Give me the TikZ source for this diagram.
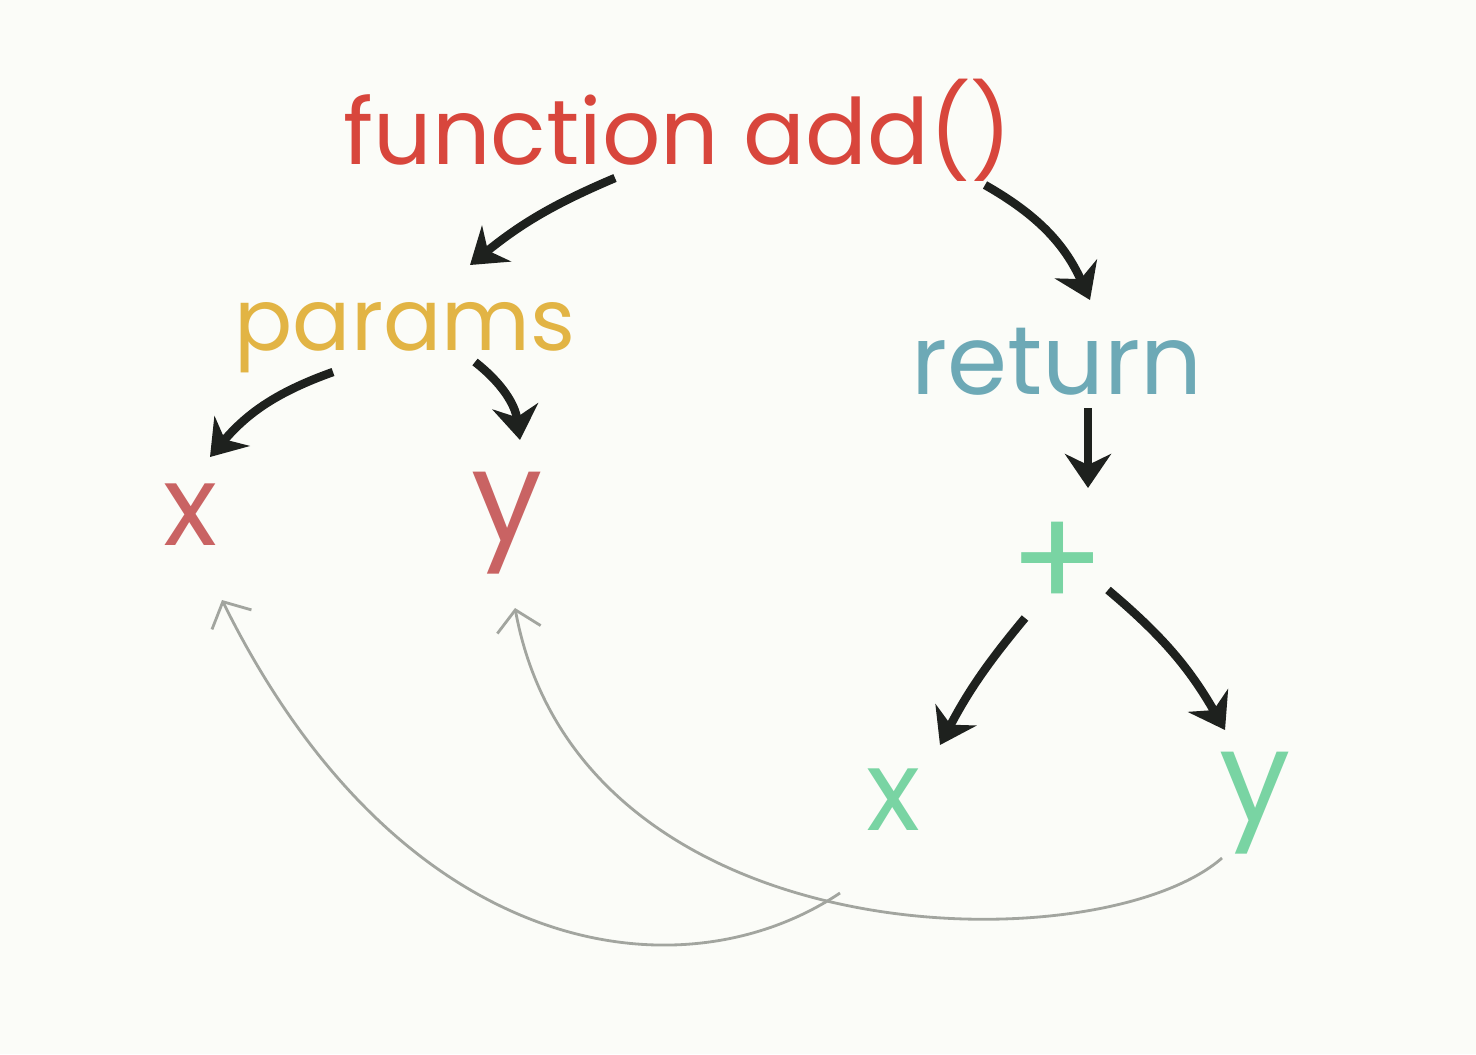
\documentclass[tikz,border=0pt]{standalone}
\usepackage{fontspec}
\setmainfont{Poppins}
\usetikzlibrary{arrows.meta,calc,positioning}
\definecolor{fnred}{HTML}{D8463C}
\definecolor{parmyellow}{HTML}{E2B444}
\definecolor{retteal}{HTML}{6DA9B6}
\definecolor{varred}{HTML}{C96363}
\definecolor{plusgreen}{HTML}{79D4A3}
\definecolor{inkblack}{HTML}{1E211E}
\definecolor{backgray}{HTML}{A2A59F}
\definecolor{paper}{HTML}{FBFCF8}
\tikzset {
  >=Stealth,
  every node/.style={inner sep=0pt},
  word/.style={font=\fontsize{26}{30}\selectfont},
  letter/.style={font=\fontsize{32}{36}\selectfont},
  flow/.style={line width=2.4pt,draw=inkblack,-{Stealth[length=3.4mm,width=4.6mm]}},
  back/.style={line width=0.8pt,draw=backgray,-{Straight Barb[length=2mm,width=4.4mm]}},
}

\begin{document}
\begin{tikzpicture}[x=0.01cm,y=-0.01cm]
          \fill[paper] (0,0) rectangle (1476,1054);
          \useasboundingbox (0,0) rectangle (1476,1054);

          \node[word,fnred] (fn) at (678,130) {function add()};
          \node[parmyellow,font=\fontsize{24.5}{28}\selectfont] (params) at (405,338) {params};
          \node[retteal,font=\fontsize{27.5}{31}\selectfont] (ret) at (1057,362) {return};

          \node[letter,varred] (xl) at (190,515) {x};
          \node[letter,varred,font=\fontsize{36}{40}\selectfont] (yl) at (507,523) {y};
          \node[plusgreen,font=\fontsize{40}{44}\selectfont] (plus) at (1058,566) {+};
          \node[letter,plusgreen] (xr) at (893,800) {x};
          \node[letter,plusgreen,font=\fontsize{36}{40}\selectfont] (yr) at (1255,803) {y};

          % black arrows
          \draw[flow] ($(fn)+(-63,48)$) to[bend right=8] ($(params)+(65,-73)$);
          \draw[flow] ($(fn)+(307,55)$) to[bend left=18] ($(ret)+(33,-62)$);
          \draw[flow] ($(params)+(-72,34)$) to[bend right=15] ($(xl)+(20,-58)$);
          \draw[flow] ($(params)+(70,24)$) to[bend left=22] ($(yl)+(13,-83)$);
          \draw[flow] ($(ret)+(31,46)$) -- ($(plus)+(30,-78)$);
          \draw[flow] ($(plus)+(-33,52)$) to[bend right=6] ($(xr)+(47,-55)$);
          \draw[flow] ($(plus)+(50,24)$) to[bend left=10] ($(yr)+(-30,-73)$);

          % gray arrows back to the params
          \draw[back] ($(xr)+(-53,93)$) .. controls (680,1000) and (400,960) .. ($(xl)+(32,85)$);
          \draw[back] ($(yr)+(-33,55)$) .. controls (1100,965) and (580,960) .. ($(yl)+(8,85)$);
        \end{tikzpicture}
\end{document}
